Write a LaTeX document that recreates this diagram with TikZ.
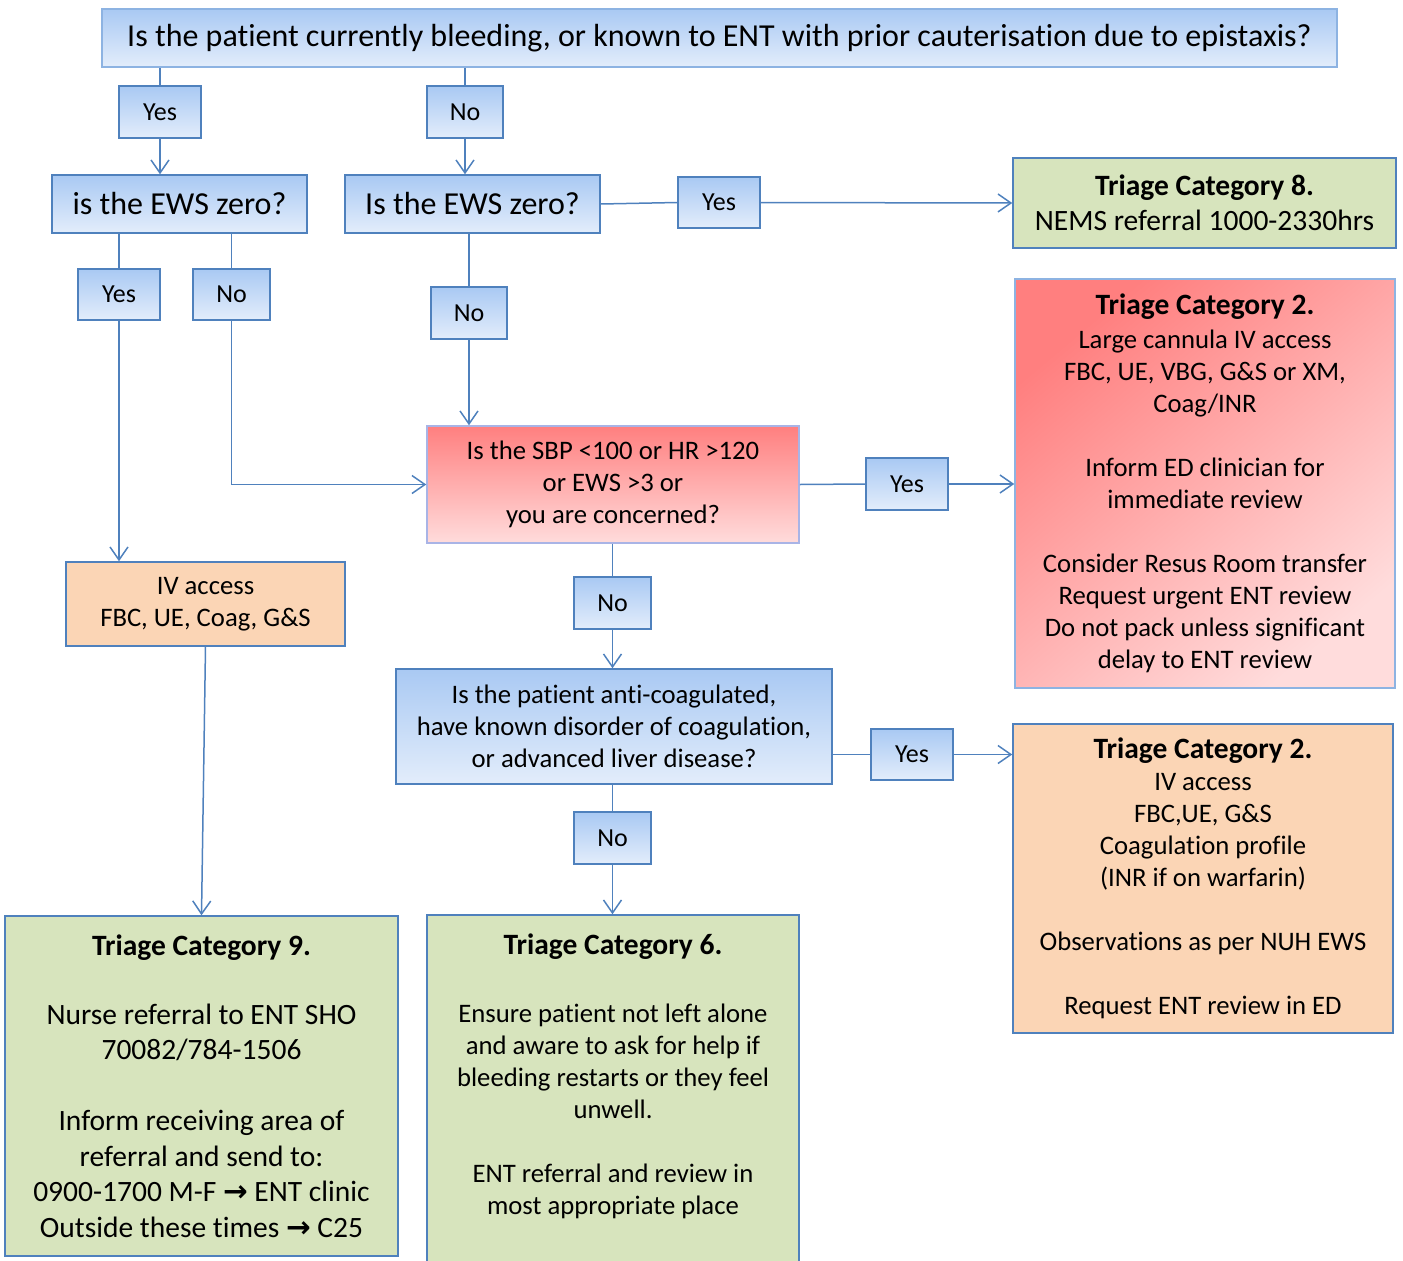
\documentclass[tikz,border=0pt]{standalone}
\usepackage{fontspec}
\setmainfont[Ligatures=NoCommon]{Carlito}
\newfontfamily\arrowfont{DejaVu Sans}
\usetikzlibrary{arrows.meta,calc}
\definecolor{lineblue}{HTML}{4F81BD}
\definecolor{lightborder}{HTML}{8DB3E2}
\definecolor{bluetop}{HTML}{A9C9F3}
\definecolor{bluebot}{HTML}{E3EDFB}
\definecolor{redtop}{HTML}{FF7F7F}
\definecolor{redbot}{HTML}{FFDCDC}
\definecolor{greenfill}{HTML}{D7E4BD}
\definecolor{orangefill}{HTML}{FBD5B5}
\definecolor{sbpborder}{HTML}{A9B4E6}
\newcommand{\rarr}{{\arrowfont\bfseries →}}
\newcommand{\ttl}[1]{{\bfseries\fontsize{29.5}{32}\selectfont #1}}
\tikzset{
  boxbase/.style={draw=lineblue, line width=1.5pt, inner sep=0pt, align=center, text=black},
  bluebox/.style={boxbase, top color=bluetop, bottom color=bluebot},
  lbl/.style={bluebox, font=\fontsize{26}{30}\selectfont},
  body/.style={font=\fontsize{26.7}{32}\selectfont},
  greenbox/.style={boxbase, fill=greenfill},
  orangebox/.style={boxbase, fill=orangefill},
  conn/.style={draw=lineblue, line width=1.5pt},
  arr/.style={conn, -{Straight Barb[length=13pt,width=18pt,line width=1.5pt]}},
}
\begin{document}
\begin{tikzpicture}[x=1pt,y=-1pt]
\useasboundingbox (0,0) rectangle (1403,1261);
% question boxes
\node[bluebox, draw=lightborder, minimum width=1235pt, minimum height=58pt, font=\fontsize{32}{36}\selectfont] (top) at (719.5,38) {Is the patient currently bleeding, or known to ENT with prior cauterisation due to epistaxis?};
\node[bluebox, minimum width=255pt, minimum height=58pt, font=\fontsize{32}{36}\selectfont] (ewsL) at (179.5,204) {is the EWS zero?};
\node[bluebox, minimum width=255pt, minimum height=58pt, font=\fontsize{32}{36}\selectfont] (ewsM) at (472.5,204) {Is the EWS zero?};
\node[boxbase, body, draw=sbpborder, top color=redtop, bottom color=redbot, minimum width=372pt, minimum height=117pt] (sbp) at (613,484.5) {Is the SBP <100 or HR >120\\or EWS >3 or\\you are concerned?};
\node[bluebox, body, minimum width=436pt, minimum height=115pt] (anti) at (614,726.5) {Is the patient anti-coagulated,\\have known disorder of coagulation,\\or advanced liver disease?};
\node[orangebox, body, minimum width=279pt, minimum height=84pt] (iv) at (205.5,604) {IV access\\FBC, UE, Coag, G\&S};
% outcome boxes
\node[greenbox, minimum width=383pt, minimum height=90pt, font=\fontsize{29.5}{35}\selectfont] (cat8) at (1204.5,203) {\ttl{Triage Category 8.}\\NEMS referral 1000-2330hrs};
\node[boxbase, body, draw=lightborder, top color=redtop, bottom color=redbot, shading angle=40, minimum width=380pt, minimum height=409pt] (cat2r) at (1205,483.5) {\ttl{Triage Category 2.}\\[2pt]Large cannula IV access\\FBC, UE, VBG, G\&S or XM,\\Coag/INR\\[32pt]Inform ED clinician for\\immediate review\\[32pt]Consider Resus Room transfer\\Request urgent ENT review\\Do not pack unless significant\\delay to ENT review};
\node[orangebox, body, minimum width=380pt, minimum height=309pt] (cat2o) at (1203,878.5) {\ttl{Triage Category 2.}\\IV access\\FBC,UE, G\&S\\Coagulation profile\\(INR if on warfarin)\\[32pt]Observations as per NUH EWS\\[32pt]Request ENT review in ED};
\node[greenbox, minimum width=393pt, minimum height=340pt, font=\fontsize{29.5}{35.5}\selectfont] (cat9) at (201.5,1086) {\ttl{Triage Category 9.}\\[33.5pt]Nurse referral to ENT SHO\\70082/784-1506\\[35.5pt]Inform receiving area of\\referral and send to:\\0900-1700 M-F \rarr{} ENT clinic\\Outside these times \rarr{} C25};
\node[greenbox, minimum width=372pt, minimum height=360pt] (cat6) at (613,1095) {};
\node[inner sep=0pt, align=center, body] (cat6t) at (613,1076) {\ttl{Triage Category 6.}\\[36pt]Ensure patient not left alone\\and aware to ask for help if\\bleeding restarts or they feel\\unwell.\\[32pt]ENT referral and review in\\most appropriate place};
% yes/no labels
\node[lbl, minimum width=82pt, minimum height=52pt] (yes1) at (160,112) {Yes};
\node[lbl, minimum width=76pt, minimum height=52pt] (no1) at (465,112) {No};
\node[lbl, minimum width=82pt, minimum height=51pt] (yesM) at (719,202.5) {Yes};
\node[lbl, minimum width=82pt, minimum height=51pt] (yesL) at (119,294.5) {Yes};
\node[lbl, minimum width=77pt, minimum height=51pt] (noL) at (231.5,294.5) {No};
\node[lbl, minimum width=76pt, minimum height=52pt] (noM) at (469,313) {No};
\node[lbl, minimum width=82pt, minimum height=52pt] (yesS) at (907,484) {Yes};
\node[lbl, minimum width=77pt, minimum height=52pt] (noS) at (612.5,603) {No};
\node[lbl, minimum width=82pt, minimum height=51pt] (yesA) at (912,754.5) {Yes};
\node[lbl, minimum width=77pt, minimum height=52pt] (noA) at (612.5,838) {No};
% connectors
\draw[conn] (top.south -| yes1.north) -- (yes1.north);
\draw[arr] (yes1.south) -- (yes1.south |- ewsL.north);
\draw[conn] (top.south -| no1.north) -- (no1.north);
\draw[arr] (no1.south) -- (no1.south |- ewsM.north);
\draw[conn] (ewsM.east) -- (yesM.west);
\draw[arr] (yesM.east) -- (cat8.west);
\draw[conn] (ewsL.south -| yesL.north) -- (yesL.north);
\draw[arr] (yesL.south) -- (yesL.south |- iv.north);
\draw[conn] (ewsL.south -| noL.north) -- (noL.north);
\draw[arr] (noL.south) |- (sbp.west);
\draw[conn] (ewsM.south -| noM.north) -- (noM.north);
\draw[arr] (noM.south) -- (noM.south |- sbp.north);
\draw[conn] (sbp.east) -- (yesS.west);
\draw[arr] (yesS.east) -- (cat2r.west |- yesS.east);
\draw[conn] (sbp.south -| noS.north) -- (noS.north);
\draw[arr] (noS.south) -- (noS.south |- anti.north);
\draw[conn] (anti.east |- yesA.west) -- (yesA.west);
\draw[arr] (yesA.east) -- (cat2o.west |- yesA.east);
\draw[conn] (anti.south -| noA.north) -- (noA.north);
\draw[arr] (noA.south) -- (noA.south |- cat6.north);
\draw[arr] (iv.south) -- (cat9.north);
\end{tikzpicture}
\end{document}
